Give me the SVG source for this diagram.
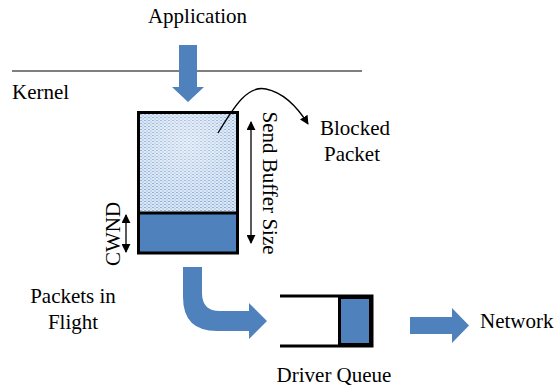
<svg xmlns="http://www.w3.org/2000/svg" width="560" height="391" viewBox="0 0 560 391">
<style>
text{font-family:"Liberation Serif","Times New Roman",serif;font-size:21px;fill:#000}
.blue{fill:#4f81bd}
.thin{stroke:#000;stroke-width:1.3;fill:none}
</style>
<defs>
<pattern id="dots" width="4" height="3" patternUnits="userSpaceOnUse">
<rect width="4" height="3" fill="#dae6f4"/>
<rect x="0" y="0" width="2" height="1" fill="#8fb1da"/>
<rect x="2" y="1.5" width="2" height="1" fill="#a9c3e3"/>
</pattern>
<radialGradient id="glow" cx="0.5" cy="0.3" r="0.6">
<stop offset="0" stop-color="#fff" stop-opacity="0.4"/>
<stop offset="1" stop-color="#fff" stop-opacity="0"/>
</radialGradient>
<marker id="ah" viewBox="0 0 10 10" refX="9" refY="5" markerWidth="9" markerHeight="9" markerUnits="userSpaceOnUse" orient="auto-start-reverse">
<path d="M0,0 L10,5 L0,10 z" fill="#000"/>
</marker>
</defs>

<g id="kernel-line">
<line x1="12" y1="71" x2="362" y2="71" stroke="#000" stroke-width="1.2"/>
<text x="12" y="99">Kernel</text>
</g>

<g id="application">
<text x="197.5" y="23" text-anchor="middle">Application</text>
</g>

<g id="send-buffer">
<rect x="138.5" y="112.5" width="99" height="100" fill="url(#dots)"/>
<rect x="138.5" y="112.5" width="99" height="100" fill="url(#glow)"/>
<rect x="138.5" y="213" width="99" height="40" class="blue"/>
<rect x="138.5" y="112.5" width="99" height="140.5" fill="none" stroke="#000" stroke-width="3"/>
<line x1="138.5" y1="213" x2="237.5" y2="213" stroke="#000" stroke-width="3"/>
</g>

<g id="send-buffer-size">
<text transform="translate(263,183) rotate(90)" text-anchor="middle">Send Buffer Size</text>
</g>

<g id="cwnd">
<text transform="translate(120,234) rotate(-90)" text-anchor="middle">CWND</text>
</g>

<g id="blocked-packet">
<text x="355" y="135" text-anchor="middle">Blocked</text>
<text x="352" y="161" text-anchor="middle">Packet</text>
</g>

<g id="packets-in-flight">
<text x="73" y="303" text-anchor="middle">Packets in</text>
<text x="73" y="329" text-anchor="middle">Flight</text>
</g>

<g id="driver-queue">
<path d="M280,296 H372 V346 H280" fill="none" stroke="#000" stroke-width="3"/>
<rect x="339.5" y="297.5" width="31" height="47" class="blue" stroke="#000" stroke-width="3"/>
<text x="334" y="382" text-anchor="middle">Driver Queue</text>
</g>

<g id="network">
<text x="480" y="328">Network</text>
</g>

<g id="connectors">
<polygon class="blue" points="179,45 197,45 197,87 204,87 188,102 172,87 179,87"/>
<path class="blue" d="M183,267 H202 V293 Q202,311 220,311 H249 V303 L267,321 L249,339 V331 H217 Q183,331 183,297 Z"/>
<polygon class="blue" points="410,317 452,317 452,308 469,325.5 452,343 452,334 410,334"/>
<line x1="251" y1="122" x2="251" y2="243" class="thin" marker-start="url(#ah)" marker-end="url(#ah)"/>
<line x1="126" y1="215" x2="126" y2="252" class="thin" marker-start="url(#ah)" marker-end="url(#ah)"/>
<path d="M218,133 C235,105 248,85 266,89 C285,93 298,108 308,124" class="thin" marker-end="url(#ah)"/>
</g>
</svg>
